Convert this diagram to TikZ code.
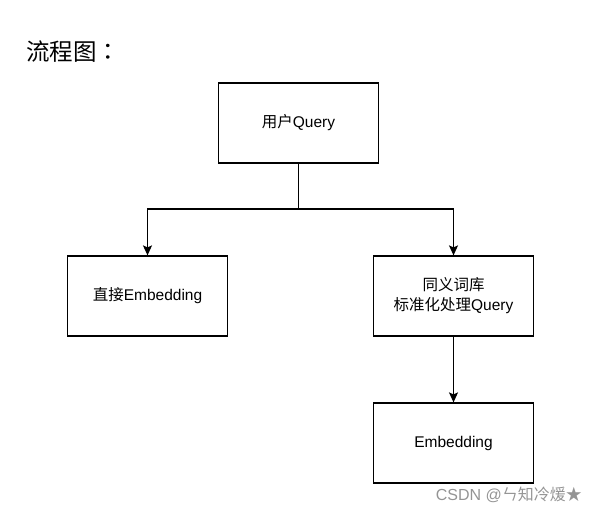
\documentclass[tikz,border=0pt]{standalone}
\usepackage{fontspec}
\setmainfont{Liberation Sans}
\newfontfamily\cjk{Noto Sans CJK SC}
\newfontfamily\cjktc{Noto Sans CJK TC}
\usetikzlibrary{arrows.meta}
\begin{document}
\begin{tikzpicture}[x=1pt,y=-1pt,
  box/.style={draw=black,line width=1.2pt,minimum width=160pt,minimum height=80pt,inner sep=0pt,align=center,font=\fontsize{15.5pt}{20pt}\selectfont},
  conn/.style={line width=1.2pt,-{Stealth[length=10pt,width=9pt,inset=2pt]}}]
\useasboundingbox (0,0) rectangle (596,512);
\node[anchor=west,inner sep=0pt,font=\fontsize{23.5pt}{26pt}\selectfont\cjk] (title) at (26,52) {流程图{\cjktc ：}};
\node[box] (q) at (298.5,123) {{\cjk 用户}Query};
\node[box] (d) at (147.5,296) {{\cjk 直接}Embedding};
\node[box] (s) at (453.5,296) {{\cjk 同义词库}\\{\cjk 标准化处理}Query};
\node[box] (e) at (453.5,443) {Embedding};
\coordinate (j) at (298.5,209);
\draw[line width=1.2pt] (q.south) -- (j);
\draw[conn] (j) -| (d.north);
\draw[conn] (j) -| (s.north);
\draw[conn] (s.south) -- (e.north);
\node[anchor=east,inner sep=0pt,text=black!42,font=\fontsize{16pt}{18pt}\selectfont] (wm) at (582,495) {CSDN @{\cjk ㄣ知冷煖★}};
\end{tikzpicture}
\end{document}
